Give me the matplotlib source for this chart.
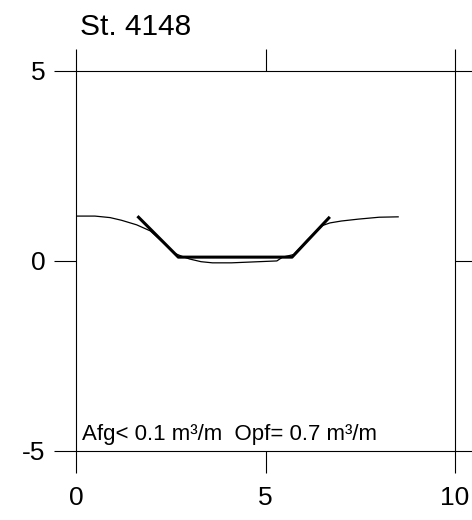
import matplotlib
matplotlib.use('Agg')
import matplotlib.pyplot as plt

plt.rcParams['font.family'] = ['Liberation Sans', 'DejaVu Sans']

STATION = 'St. 4148'
VOLUME_TEXT = 'Afg< 0.1 m³/m  Opf= 0.7 m³/m'

# measured cross-section (thin line)
measured_x = [0.0, 0.5, 0.9, 1.2, 1.6, 1.96, 2.3, 2.6, 2.8, 3.0, 3.3, 3.6, 4.1, 5.3,
              5.45, 5.75, 6.1, 6.5, 6.7, 7.0, 7.45, 8.0, 8.5]
measured_y = [1.18, 1.18, 1.14, 1.07, 0.95, 0.79, 0.48, 0.2, 0.12, 0.05, -0.02, -0.05,
              -0.05, 0.0, 0.1, 0.17, 0.55, 0.93, 1.0, 1.05, 1.1, 1.15, 1.16]

# design profile (thick line)
design_x = [1.65, 2.7, 5.7, 6.67]
design_y = [1.15, 0.1, 0.1, 1.13]

xticks = [0, 5, 10]
yticks = [-5, 0, 5]

fig = plt.figure(figsize=(4.72, 5.2), dpi=100)
ax = fig.add_axes([0.161, 0.1327, 0.803, 0.731])

ax.plot(measured_x, measured_y, color='black', lw=0.9)
ax.plot(design_x, design_y, color='black', lw=2.2)

ax.set_xlim(0, 10)
ax.set_ylim(-5, 5)
ax.set_xticks(xticks)
ax.set_yticks(yticks)
ax.set_xticklabels([str(t) for t in xticks])
ax.set_yticklabels([str(t) for t in yticks])
ax.tick_params(direction='out', length=16, width=0.8, labelsize=19,
               top=True, right=True, labeltop=False, labelright=False)
ax.tick_params(axis='x', pad=9)
ax.tick_params(axis='y', pad=6)
for s in ax.spines.values():
    s.set_linewidth(0.8)

ax.text(0.15, -4.72, VOLUME_TEXT, fontsize=16, ha='left', va='baseline')
fig.text(80 / 472, 1 - 35 / 520, STATION, fontsize=21.5, ha='left', va='baseline')

fig.savefig('out.png', dpi=100)
